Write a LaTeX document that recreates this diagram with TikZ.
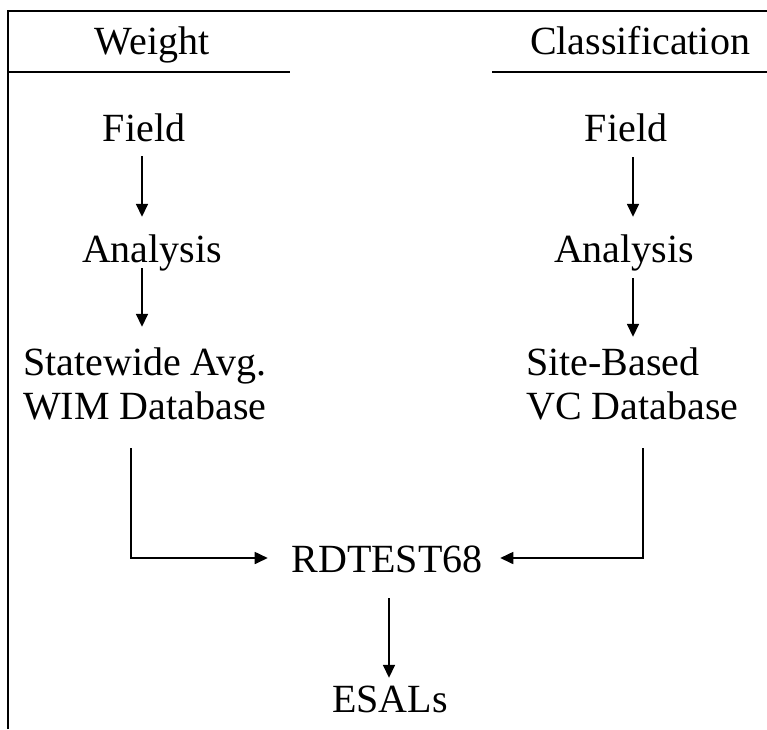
\documentclass[tikz,border=0pt]{standalone}
\usepackage{fontspec}
\setmainfont{Liberation Serif}
\usetikzlibrary{arrows.meta}
\begin{document}
\begin{tikzpicture}[x=1pt,y=-1pt,
  lbl/.style={font=\fontsize{40}{45}\selectfont, inner sep=0pt,
              text height=27pt, text depth=9pt},
  arr/.style={-{Triangle[length=13pt,width=12pt]}, line width=1.6pt},
  rule/.style={line width=1.6pt}]
\useasboundingbox (0,0) rectangle (767,729);

% frame and column headers
\draw[rule] (8,729) -- (8,11) -- (767,11);
\draw[rule] (8,72) -- (290,72);
\draw[rule] (492,72) -- (767,72);
\node[lbl, anchor=base] (weight) at (152,54) {Weight};
\node[lbl, anchor=base] (classif) at (640,54) {Classification};

% weight branch
\node[lbl, anchor=base] (fieldL) at (144,141) {Field};
\node[lbl, anchor=base] (analysisL) at (152,262) {Analysis};
\node[lbl, anchor=base west] (statewide) at (23,375) {Statewide Avg.};
\node[lbl, anchor=base west] (wimdb) at (23,419) {WIM Database};

% classification branch
\node[lbl, anchor=base] (fieldR) at (626,141) {Field};
\node[lbl, anchor=base] (analysisR) at (624,262) {Analysis};
\node[lbl, anchor=base west] (sitebased) at (526,375) {Site-Based};
\node[lbl, anchor=base west] (vcdb) at (526,419) {VC Database};

% program and result
\node[lbl, anchor=base] (rdtest) at (387,572) {RDTEST68};
\node[lbl, anchor=base] (esals) at (390,712) {ESALs};

% vertical flow arrows
\draw[arr, shorten <=6pt, shorten >=18pt]
  ([xshift=-2pt]fieldL.south) -- ([xshift=-2pt]fieldL.south |- analysisL.north);
\draw[arr, shorten <=-3pt, shorten >=21pt]
  ([xshift=-10pt]analysisL.south) -- ([xshift=-10pt]analysisL.south |- statewide.north);
\draw[arr, shorten <=7pt, shorten >=18pt]
  ([xshift=7pt]fieldR.south) -- ([xshift=7pt]fieldR.south |- analysisR.north);
\draw[arr, shorten <=7pt, shorten >=11pt]
  ([xshift=9pt]analysisR.south) -- ([xshift=9pt]analysisR.south |- sitebased.north);

% databases into RDTEST68
\draw[arr, shorten <=20pt, shorten >=23.5pt]
  ([xshift=108pt]wimdb.south west) |- ([yshift=5pt]rdtest.west);
\draw[arr, shorten <=20pt, shorten >=17.5pt]
  ([xshift=117pt]vcdb.south west) |- ([yshift=5pt]rdtest.east);

% RDTEST68 to ESALs
\draw[arr, shorten <=17pt, shorten >=7pt]
  ([xshift=2pt]rdtest.south) -- ([xshift=2pt]rdtest.south |- esals.north);
\end{tikzpicture}
\end{document}
